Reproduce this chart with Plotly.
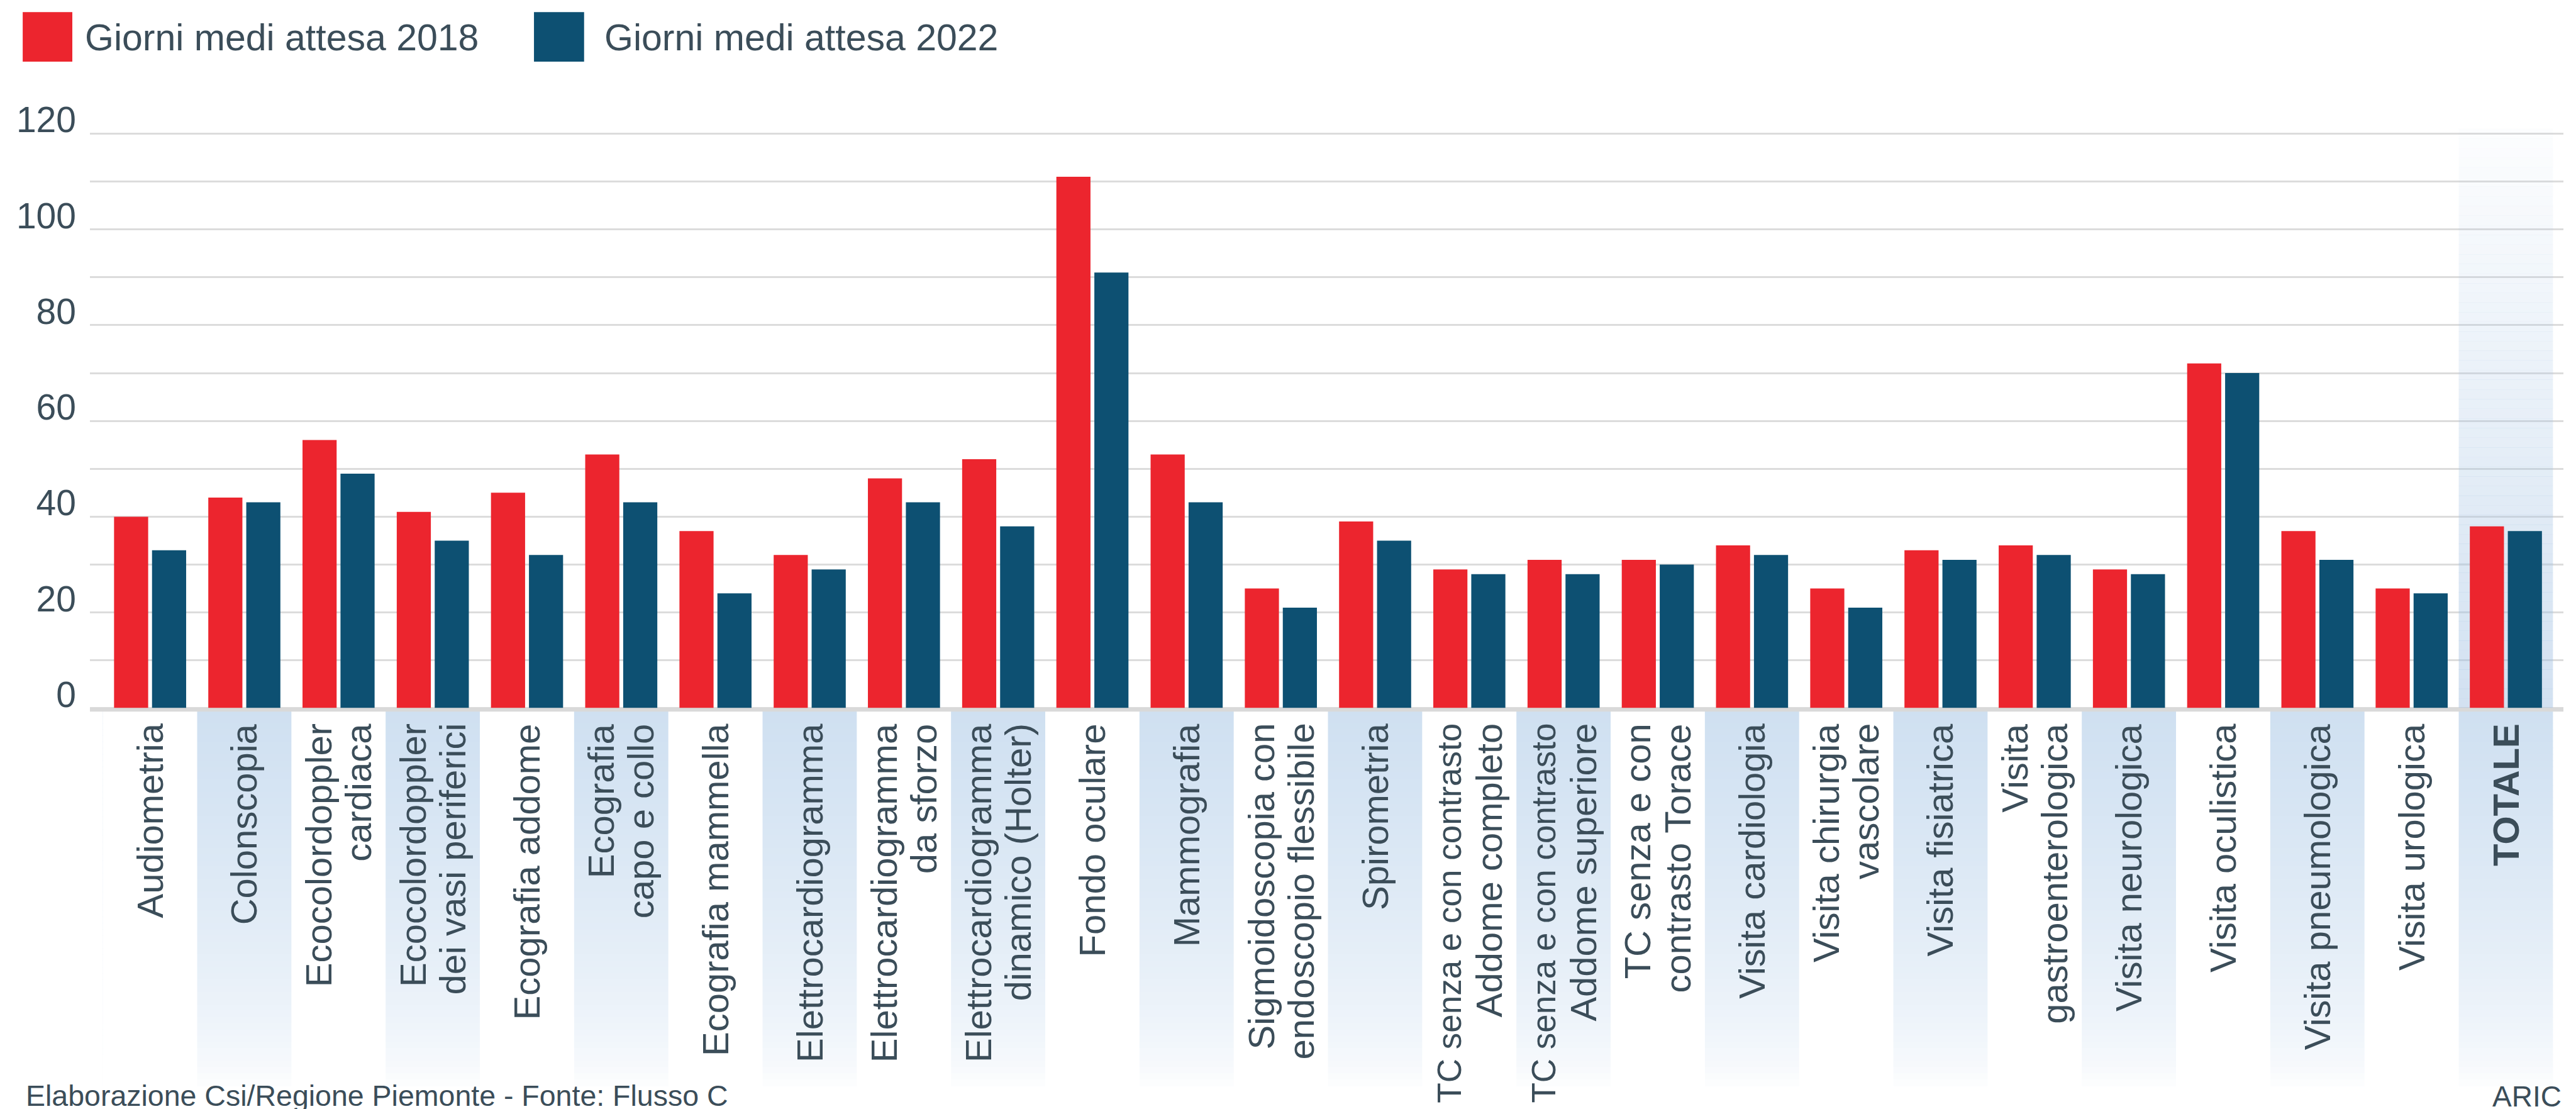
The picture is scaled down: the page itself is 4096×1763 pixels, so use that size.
import plotly.graph_objects as go

# ---------------- data ----------------
categories = [
    "Audiometria", "Colonscopia", "Ecocolordoppler cardiaca",
    "Ecocolordoppler dei vasi periferici", "Ecografia addome",
    "Ecografia capo e collo", "Ecografia mammella", "Elettrocardiogramma",
    "Elettrocardiogramma da sforzo", "Elettrocardiogramma dinamico (Holter)",
    "Fondo oculare", "Mammografia", "Sigmoidoscopia con endoscopio flessibile",
    "Spirometria", "TC senza e con contrasto Addome completo",
    "TC senza e con contrasto Addome superiore", "TC senza e con contrasto Torace",
    "Visita cardiologia", "Visita chirurgia vascolare", "Visita fisiatrica",
    "Visita gastroenterologica", "Visita neurologica", "Visita oculistica",
    "Visita pneumologica", "Visita urologica", "TOTALE",
]
tick_label_lines = [
    ["Audiometria"], ["Colonscopia"], ["Ecocolordoppler", "cardiaca"],
    ["Ecocolordoppler", "dei vasi periferici"], ["Ecografia addome"],
    ["Ecografia", "capo e collo"], ["Ecografia mammella"], ["Elettrocardiogramma"],
    ["Elettrocardiogramma", "da sforzo"], ["Elettrocardiogramma", "dinamico (Holter)"],
    ["Fondo oculare"], ["Mammografia"], ["Sigmoidoscopia con", "endoscopio flessibile"],
    ["Spirometria"], ["TC senza e con contrasto", "Addome completo"],
    ["TC senza e con contrasto", "Addome superiore"], ["TC senza e con", "contrasto Torace"],
    ["Visita cardiologia"], ["Visita chirurgia", "vascolare"], ["Visita fisiatrica"],
    ["Visita", "gastroenterologica"], ["Visita neurologica"], ["Visita oculistica"],
    ["Visita pneumologica"], ["Visita urologica"], ["TOTALE"],
]
giorni_2018 = [40, 44, 56, 41, 45, 53, 37, 32, 48, 52, 111, 53, 25, 39, 29, 31, 31,
               34, 25, 33, 34, 29, 72, 37, 25, 38]
giorni_2022 = [33, 43, 49, 35, 32, 43, 24, 29, 43, 38, 91, 43, 21, 35, 28, 28, 30,
               32, 21, 31, 32, 28, 70, 31, 24, 37]
series_names = ["Giorni medi attesa 2018", "Giorni medi attesa 2022"]
y_tick_values = [0, 20, 40, 60, 80, 100, 120]
y_tick_labels = ["0", "20", "40", "60", "80", "100", "120"]
footer_left = "Elaborazione Csi/Regione Piemonte - Fonte: Flusso C"
footer_right = "ARIC"

# ---------------- style / geometry ----------------
W, H = 4096, 1763
S = 0.876
RED = "#ec252e"
BLUE = "#0d5072"
TXT = "#3b4d59"
GRID = "#dcdcdc"
FONT = "Liberation Sans, Arial, Helvetica, sans-serif"
LABEL_SIZE = 58
LABEL_SIZE_LONG = {"TC senza e con contrasto": 53}

PL, PR = 154 * S, 4644 * S
Y0_PIX = 1276.4 * S
Y120_PIX = 232.8 * S
PPU = (Y0_PIX - Y120_PIX) / 120.0
YMIN, YMAX = -0.8, 121.5
PT = Y120_PIX - (YMAX - 120) * PPU
PB = Y0_PIX - YMIN * PPU
CAT_W = 171.05
XMIN = -0.5 - (177.6 - 154) / CAT_W
XMAX = 25.5 + (4644 - 4625) / CAT_W


def px_x(px):
    return (px - PL) / (PR - PL)


def px_y(py):
    return (PB - py) / (PB - PT)


fig = go.Figure()
fig.add_trace(go.Bar(x=categories, y=giorni_2018, name=series_names[0],
                     marker=dict(color=RED, line=dict(width=0)),
                     width=0.362, offset=-0.382, showlegend=False))
fig.add_trace(go.Bar(x=categories, y=giorni_2022, name=series_names[1],
                     marker=dict(color=BLUE, line=dict(width=0)),
                     width=0.362, offset=0.021, showlegend=False))

shapes = []
# label-area gradient bands (alternate categories)
band_top = 1280 * S
band_bot = 1962 * S
N = 60
base = (207, 224, 241)
for k in range(N):
    f = (k + 0.5) / N
    a = (1 - f) ** 0.6
    col = "rgb(%d,%d,%d)" % tuple(round(255 * (1 - a) + c * a) for c in base)
    t = band_top + (band_bot - band_top) * k / N
    b = band_top + (band_bot - band_top) * (k + 1) / N + 0.8
    shapes.append(dict(type="rect", xref="x", yref="paper", x0=-0.5, x1=25.5,
                       y0=px_y(b), y1=px_y(t), fillcolor=col,
                       line=dict(width=0), layer="below"))
for i in range(0, len(categories), 2):
    shapes.append(dict(type="rect", xref="x", yref="paper", x0=i - 0.5, x1=i + 0.5,
                       y0=px_y(band_bot + 2), y1=px_y(band_top - 1), fillcolor="white",
                       line=dict(width=0), layer="below"))

# TOTALE highlight inside plot area
NT = 60
for k in range(NT):
    v0 = 121.0 * k / NT
    v1 = 121.0 * (k + 1) / NT
    a = 0.5 * (1 - (v0 + v1) / 2 / 128.0)
    shapes.append(dict(type="rect", xref="x", yref="y", x0=24.5, x1=25.5,
                       y0=v0, y1=v1 + (0.05 if k < NT - 1 else 0),
                       fillcolor="rgba(165,195,227,%.3f)" % a,
                       line=dict(width=0), layer="between"))

# baseline
shapes.append(dict(type="rect", xref="paper", yref="y", x0=0, x1=1,
                   ysizemode="pixel", yanchor=0, y0=-5.3, y1=0.6,
                   fillcolor="#d9d9d9", line=dict(width=0), layer="above"))

# legend swatches
shapes.append(dict(type="rect", xref="paper", yref="paper",
                   x0=px_x(28.0), x1=px_x(106.9), y0=px_y(89.4), y1=px_y(10.5),
                   fillcolor=RED, line=dict(width=0)))
shapes.append(dict(type="rect", xref="paper", yref="paper",
                   x0=px_x(841.0), x1=px_x(920.7), y0=px_y(89.4), y1=px_y(10.5),
                   fillcolor=BLUE, line=dict(width=0)))

annotations = []
annotations.append(dict(text=series_names[0], xref="paper", yref="paper",
                        x=px_x(126), y=px_y(51), xanchor="left", yanchor="middle",
                        showarrow=False, borderpad=0,
                        font=dict(family=FONT, size=59, color=TXT)))
annotations.append(dict(text=series_names[1], xref="paper", yref="paper",
                        x=px_x(952), y=px_y(51), xanchor="left", yanchor="middle",
                        showarrow=False, borderpad=0,
                        font=dict(family=FONT, size=59, color=TXT)))

# category labels (rotated, end-aligned near axis)
LABEL_TOP = 1313 * S - 8
PITCH = 72 * S
for i, lines in enumerate(tick_label_lines):
    n = len(lines)
    for j, line in enumerate(lines):
        txt = "<b>%s</b>" % line if categories[i] == "TOTALE" else line
        size = LABEL_SIZE_LONG.get(line, LABEL_SIZE)
        annotations.append(dict(text=txt, xref="x", yref="paper", x=categories[i],
                                y=px_y(LABEL_TOP), xanchor="center", yanchor="top",
                                xshift=(j - (n - 1) / 2) * PITCH, textangle=-90,
                                showarrow=False, borderpad=0, borderwidth=0,
                                font=dict(family=FONT, size=size, color=TXT)))

# footer (kept fully inside the canvas)
annotations.append(dict(text=footer_left, xref="paper", yref="paper",
                        x=px_x(31.5), y=px_y(1708), xanchor="left", yanchor="top",
                        showarrow=False, borderpad=0,
                        font=dict(family=FONT, size=46.5, color=TXT)))
annotations.append(dict(text=footer_right, xref="paper", yref="paper",
                        x=px_x(4066), y=px_y(1709), xanchor="right", yanchor="top",
                        showarrow=False, borderpad=0,
                        font=dict(family=FONT, size=46, color=TXT)))

fig.update_layout(
    width=W, height=H,
    margin=dict(l=PL, r=W - PR, t=PT, b=H - PB, pad=0, autoexpand=False),
    paper_bgcolor="white", plot_bgcolor="white",
    barmode="overlay",
    shapes=shapes, annotations=annotations,
    font=dict(family=FONT, color=TXT),
    xaxis=dict(type="category", range=[XMIN, XMAX], showticklabels=False,
               showgrid=False, zeroline=False, showline=False, ticks=""),
    yaxis=dict(range=[YMIN, YMAX], tickvals=y_tick_values, ticktext=y_tick_labels,
               showgrid=True, gridcolor=GRID, gridwidth=2.6, zeroline=False,
               showline=False, ticks="", ticklabelstandoff=21, ticklabelshift=-22,
               tickfont=dict(family=FONT, size=57, color=TXT),
               minor=dict(tickvals=[10, 30, 50, 70, 90, 110], showgrid=True,
                          gridcolor=GRID, gridwidth=2.6)),
)

fig.write_html("out.html")
